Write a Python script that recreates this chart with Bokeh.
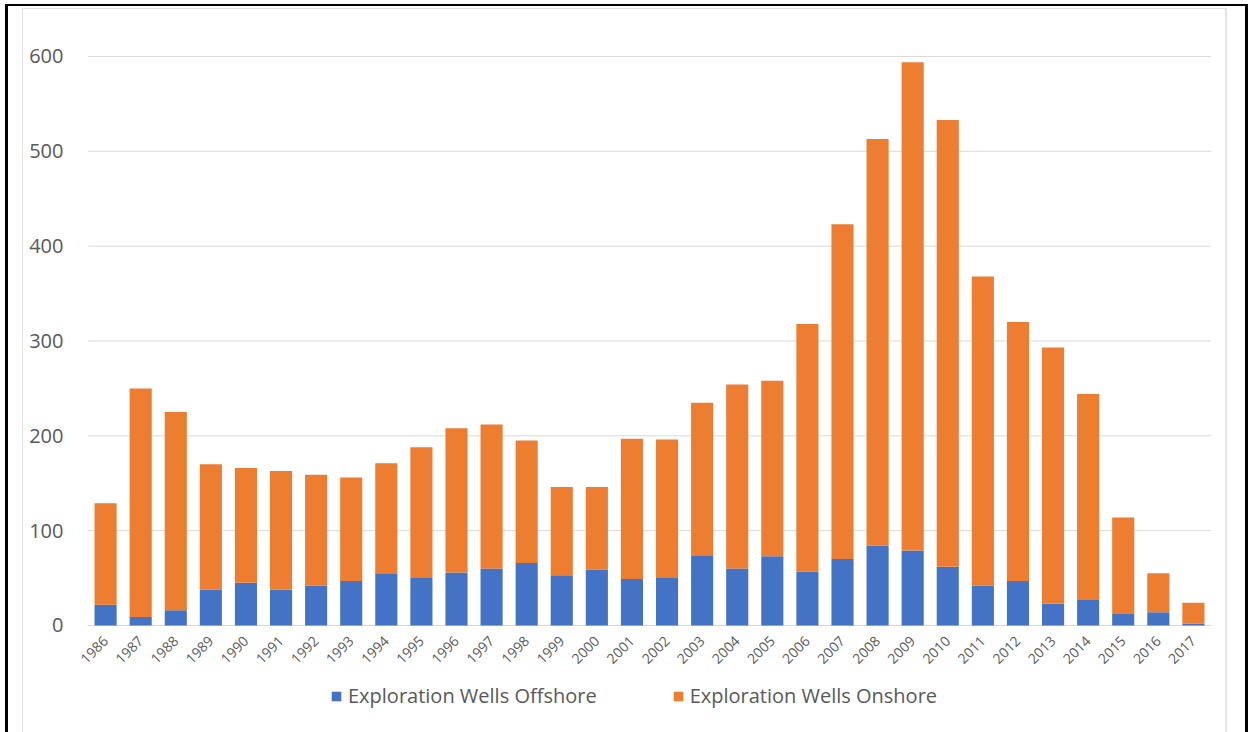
from bokeh.plotting import figure
from bokeh.models import ColumnDataSource, FactorRange, Legend, LegendItem, FixedTicker, Range1d
from bokeh.embed import file_html
from bokeh.resources import INLINE
from math import pi

years = ["1986", "1987", "1988", "1989", "1990", "1991", "1992", "1993", "1994", "1995",
         "1996", "1997", "1998", "1999", "2000", "2001", "2002", "2003", "2004", "2005",
         "2006", "2007", "2008", "2009", "2010", "2011", "2012", "2013", "2014", "2015",
         "2016", "2017"]
offshore = [22, 9, 16, 38, 45, 38, 42, 47, 55, 50,
            56, 60, 66, 53, 59, 49, 50, 74, 60, 73,
            57, 70, 84, 79, 62, 42, 47, 23, 27, 12,
            14, 2]
onshore = [107, 241, 209, 132, 121, 125, 117, 109, 116, 138,
           152, 152, 129, 93, 87, 148, 146, 161, 194, 185,
           261, 353, 429, 515, 471, 326, 273, 270, 217, 102,
           41, 22]
series = ["Exploration Wells Offshore", "Exploration Wells Onshore"]
colors = ["#4472C4", "#ED7D31"]
y_ticks = [0, 100, 200, 300, 400, 500, 600]

src = ColumnDataSource(dict(year=years, off=offshore, on=onshore))
grid_src = ColumnDataSource(dict(x0=[(years[0], -0.5)] * len(y_ticks),
                                 x1=[(years[-1], 0.5)] * len(y_ticks),
                                 y=y_ticks))

FONT = "Open Sans"
GRAY = "#595959"

frame_css = {
    "background-color": "white",
    "background-image": ", ".join(["linear-gradient(#000, #000)"] * 3 + ["linear-gradient(#e3e3e3, #e3e3e3)"] * 3),
    "background-position": "5px 4px, 5px 4px, 1245px 4px, 22px 8px, 22px 8px, 1225px 8px",
    "background-size": "3px 100%, 1242px 2px, 3px 100%, 1px 100%, 1204px 1px, 2px 100%",
    "background-repeat": "no-repeat",
}

xr = FactorRange(*years, range_padding=0.5, range_padding_units="absolute")

# frame spans y = 37..725 px; value 0 sits at y = 625 px (0.94833 px per unit)
p = figure(width=1248, height=732, x_range=xr, y_range=Range1d(-105.45, 620),
           output_backend="svg", toolbar_location=None,
           min_border_left=70, min_border_right=20, min_border_top=37, min_border_bottom=7,
           styles=frame_css)
p.outline_line_color = None
p.background_fill_color = None
p.border_fill_color = None

p.segment(x0="x0", x1="x1", y0="y", y1="y", source=grid_src, line_color="#d9d9d9", line_width=1)

rs = p.vbar_stack(["off", "on"], x="year", width=0.63, source=src,
                  color=colors, line_color=None)

p.xgrid.grid_line_color = None
p.ygrid.grid_line_color = None
p.yaxis.ticker = FixedTicker(ticks=y_ticks)
p.yaxis.axis_line_color = None
p.yaxis.major_tick_line_color = None
p.yaxis.minor_tick_line_color = None
p.yaxis.major_label_standoff = 1
p.yaxis.major_label_text_font = FONT
p.yaxis.major_label_text_font_size = "20px"
p.yaxis.major_label_text_color = GRAY

p.xaxis.fixed_location = 0
p.xaxis.axis_line_color = None
p.xaxis.major_tick_line_color = None
p.xaxis.major_label_orientation = pi / 4
p.xaxis.major_label_standoff = 7
p.xaxis.major_label_text_font = FONT
p.xaxis.major_label_text_font_size = "14px"
p.xaxis.major_label_text_color = GRAY

legend = Legend(items=[LegendItem(label=series[0], renderers=[rs[0]]),
                       LegendItem(label=series[1], renderers=[rs[1]])],
                orientation="horizontal", location=(260, 16),
                glyph_width=12, glyph_height=12, label_standoff=6, spacing=75,
                label_text_font=FONT, label_text_font_size="20px", label_text_color=GRAY,
                border_line_color=None, background_fill_alpha=0, padding=0, margin=0)
p.add_layout(legend, "center")

open("out.html", "w").write(file_html(p, INLINE))
